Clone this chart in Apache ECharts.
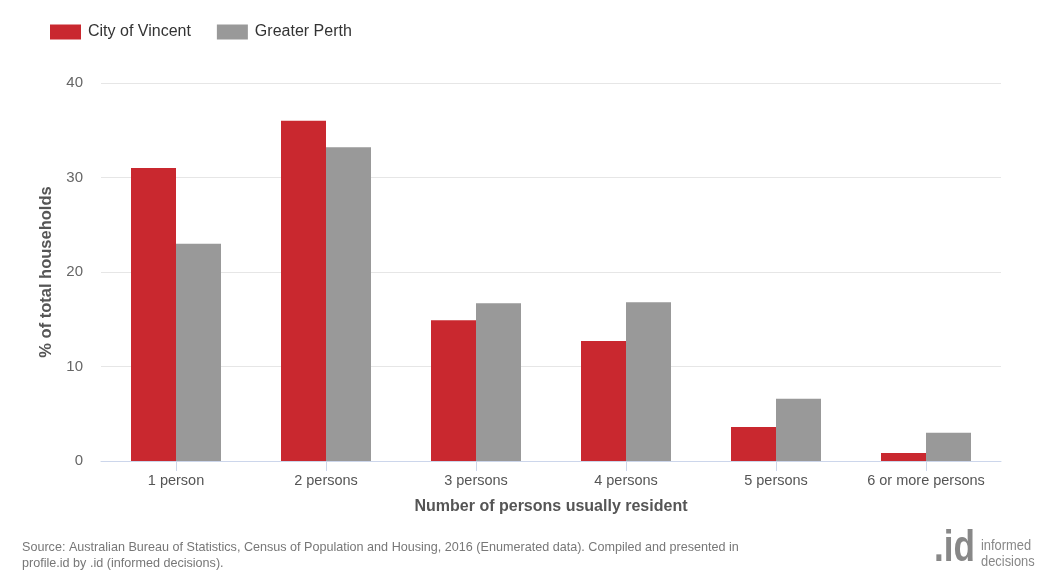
<!DOCTYPE html>
<html>
<head>
<meta charset="utf-8">
<script src="https://cdn.jsdelivr.net/npm/echarts@6/dist/echarts.min.js"></script>
<style>
  html, body { margin: 0; padding: 0; background: #fff; }
  #chart { width: 1050px; height: 586px; }
</style>
</head>
<body>
<div id="chart"></div>
<script>
// Household size, City of Vincent vs Greater Perth (% of total households)
const categories = ['1 person', '2 persons', '3 persons', '4 persons', '5 persons', '6 or more persons'];
const vincent = [31.0, 36.0, 14.9, 12.7, 3.6, 0.85];
const perth = [23.0, 33.2, 16.7, 16.8, 6.6, 3.0];
const yTicks = [0, 10, 20, 30, 40];

const RED = '#c9282f';
const GREY = '#999999';
const FONT = 'Liberation Sans, Arial, sans-serif';

const chart = echarts.init(document.getElementById('chart'), null, { renderer: 'canvas' });

chart.setOption({
  animation: false,
  backgroundColor: '#ffffff',
  textStyle: { fontFamily: FONT },
  legend: {
    left: 45,
    top: 19,
    itemWidth: 31,
    itemHeight: 15,
    itemGap: 26,
    icon: 'rect',
    textStyle: { fontFamily: FONT, fontSize: 16, color: '#333', padding: [0, 0, 0, 2] },
    data: ['City of Vincent', 'Greater Perth']
  },
  grid: { left: 101, right: 49, top: 83, bottom: 125, containLabel: false },
  xAxis: {
    type: 'category',
    data: categories,
    name: 'Number of persons usually resident',
    nameLocation: 'middle',
    nameGap: 38,
    nameTextStyle: { fontFamily: FONT, fontSize: 16, fontWeight: 'bold', color: '#555' },
    axisLine: { lineStyle: { color: '#ccd6eb', width: 1 } },
    axisTick: { show: true, alignWithLabel: true, interval: 0, length: 10, lineStyle: { color: '#ccd6eb' } },
    axisLabel: { fontFamily: FONT, fontSize: 14.5, color: '#555', margin: 12, interval: 0 }
  },
  yAxis: {
    type: 'value',
    min: yTicks[0],
    max: yTicks[yTicks.length - 1],
    interval: 10,
    name: '% of total households',
    nameLocation: 'middle',
    nameGap: 46,
    nameTextStyle: { fontFamily: FONT, fontSize: 16.5, fontWeight: 'bold', color: '#555' },
    axisLine: { show: false },
    axisTick: { show: false },
    axisLabel: { fontFamily: FONT, fontSize: 15, color: '#666', margin: 18 },
    splitLine: { lineStyle: { color: '#e6e6e6', width: 1 } }
  },
  series: [
    {
      name: 'City of Vincent',
      type: 'bar',
      data: vincent,
      barWidth: 45,
      barGap: '0%',
      itemStyle: { color: RED }
    },
    {
      name: 'Greater Perth',
      type: 'bar',
      data: perth,
      barWidth: 45,
      barGap: '0%',
      itemStyle: { color: GREY }
    }
  ],
  graphic: [
    {
      type: 'text',
      left: 22,
      top: 540,
      style: {
        text: 'Source: Australian Bureau of Statistics, Census of Population and Housing, 2016 (Enumerated data). Compiled and presented in\nprofile.id by .id (informed decisions).',
        fontFamily: FONT,
        fontSize: 12.6,
        lineHeight: 16,
        fill: '#777'
      }
    },
    {
      type: 'text',
      x: 934,
      y: 526,
      scaleX: 0.78,
      style: {
        text: '.id',
        fontFamily: FONT,
        fontSize: 45,
        fontWeight: 'bold',
        fill: '#888888'
      }
    },
    {
      type: 'text',
      x: 981,
      y: 538,
      scaleX: 0.92,
      style: {
        text: 'informed\ndecisions',
        fontFamily: FONT,
        fontSize: 14,
        lineHeight: 16,
        fill: '#888888'
      }
    }
  ]
});
</script>
</body>
</html>
